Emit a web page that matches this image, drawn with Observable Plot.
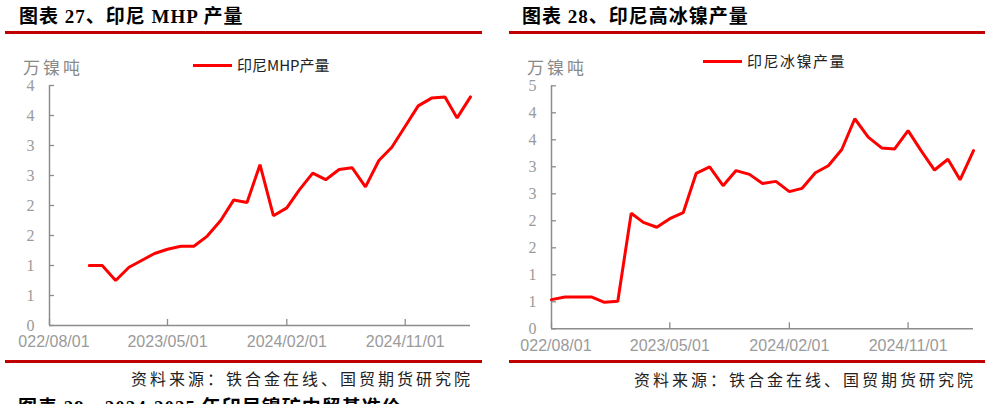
<!DOCTYPE html>
<html><head><meta charset="utf-8">
<script src="https://cdn.jsdelivr.net/npm/d3@7"></script>
<script src="https://cdn.jsdelivr.net/npm/@observablehq/plot@0.6"></script>
<style>
body{margin:0;background:#fff;width:991px;height:404px;overflow:hidden;position:relative;font-family:"Noto Sans CJK SC",sans-serif}
.abs{position:absolute;white-space:nowrap;line-height:1;z-index:2}
.title{font-family:"Liberation Serif","Noto Sans CJK SC",serif;font-weight:bold;font-size:19px;letter-spacing:1px;color:#000}
.rule{position:absolute;height:3px;background:#c00000;z-index:2}
.unit{font-size:17px;color:#8a8a8a;letter-spacing:3px}
.leg{font-size:15px;color:#222}
.legline{position:absolute;height:3px;background:#ff0000;z-index:2}
.src{font-size:16px;color:#222;letter-spacing:3px}
.chart{position:absolute;overflow:hidden;z-index:1}
</style></head><body>

<div class="abs title" style="left:19px;top:7px">图表 27、印尼 MHP 产量</div>
<div class="rule" style="left:5px;width:477px;top:31px"></div>
<div class="abs unit" style="left:23px;top:58px">万镍吨</div>
<div class="legline" style="left:193px;width:39px;top:64px"></div>
<div class="abs leg" style="left:237px;top:57px">印尼MHP产量</div>
<div id="c1" class="chart" style="left:18px;top:40px;width:467px;height:320px"></div>
<div class="rule" style="left:5px;width:477px;top:360px"></div>
<div class="abs src" style="right:518px;top:370px">资料来源：铁合金在线、国贸期货研究院</div>

<div class="abs title" style="left:522px;top:7px">图表 28、印尼高冰镍产量</div>
<div class="rule" style="left:509px;width:476px;top:31px"></div>
<div class="abs unit" style="left:527px;top:58px">万镍吨</div>
<div class="legline" style="left:703px;width:39px;top:60px"></div>
<div class="abs leg" style="left:747px;top:53px;letter-spacing:1.5px">印尼冰镍产量</div>
<div id="c2" class="chart" style="left:520px;top:40px;width:465px;height:320px"></div>
<div class="rule" style="left:509px;width:476px;top:360px"></div>
<div class="abs src" style="right:15px;top:371px">资料来源：铁合金在线、国贸期货研究院</div>

<div class="abs title" style="left:18px;top:398px">图表 29、2024-2025 年印尼镍矿内贸基准价</div>

<script>
// ---- data ----
const mhpMonths = ["2022-11-01","2022-12-01","2023-01-01","2023-02-01","2023-03-01","2023-04-01","2023-05-01","2023-06-01","2023-07-01","2023-08-01","2023-09-01","2023-10-01","2023-11-01","2023-12-01","2024-01-01","2024-02-01","2024-03-01","2024-04-01","2024-05-01","2024-06-01","2024-07-01","2024-08-01","2024-09-01","2024-10-01","2024-11-01","2024-12-01","2025-01-01","2025-02-01","2025-03-01","2025-04-01"];
const mhpValues = [1.00,1.00,0.75,0.97,1.08,1.20,1.27,1.32,1.32,1.49,1.75,2.09,2.05,2.68,1.83,1.96,2.26,2.54,2.43,2.60,2.63,2.31,2.75,2.97,3.32,3.66,3.79,3.81,3.46,3.81];

const matteMonths = ["2022-08-01","2022-09-01","2022-10-01","2022-11-01","2022-12-01","2023-01-01","2023-02-01","2023-03-01","2023-04-01","2023-05-01","2023-06-01","2023-07-01","2023-08-01","2023-09-01","2023-10-01","2023-11-01","2023-12-01","2024-01-01","2024-02-01","2024-03-01","2024-04-01","2024-05-01","2024-06-01","2024-07-01","2024-08-01","2024-09-01","2024-10-01","2024-11-01","2024-12-01","2025-01-01","2025-02-01","2025-03-01","2025-04-01"];
const matteValues = [0.54,0.59,0.59,0.59,0.49,0.51,2.14,1.97,1.88,2.04,2.15,2.88,3.00,2.65,2.93,2.86,2.69,2.73,2.54,2.60,2.89,3.02,3.32,3.89,3.55,3.35,3.33,3.67,3.30,2.94,3.14,2.76,3.30];

const xDomain = ["2022-08-01","2025-04-01"];
const xTicks = ["2022-08-01","2023-05-01","2024-02-01","2024-11-01"];
const xTickLabels = ["2022/08/01","2023/05/01","2024/02/01","2024/11/01"];

const yTicksLeft = [0,0.5,1,1.5,2,2.5,3,3.5,4];
const yLabelsLeft = ["0","1","1","2","2","3","3","4","4"];
const yTicksRight = [0,0.5,1,1.5,2,2.5,3,3.5,4,4.5];
const yLabelsRight = ["0","1","1","2","2","3","3","4","4","5"];

// ---- drawing ----
const parse = d3.utcParse("%Y-%m-%d");
const axisGrey = "#8c8c8c";
const labelGrey = "#9a9a9a";

function draw(el, months, values, yTicks, yLabels, opts) {
  const data = months.map((m, i) => ({date: parse(m), value: values[i]}));
  const xt = xTicks.map(parse);
  const xLab = new Map(xt.map((d, i) => [+d, xTickLabels[i]]));
  const yLab = new Map(yTicks.map((d, i) => [d, yLabels[i]]));
  const innerW = opts.width - opts.marginLeft - opts.marginRight;
  const innerH = opts.height - opts.marginTop - opts.marginBottom;
  const chart = Plot.plot({
    width: opts.width,
    height: opts.height,
    marginLeft: opts.marginLeft,
    marginRight: opts.marginRight,
    marginTop: opts.marginTop,
    marginBottom: opts.marginBottom,
    style: {background: "transparent", overflow: "hidden"},
    x: {type: "utc", domain: xDomain.map(parse)},
    y: {domain: [yTicks[0], yTicks[yTicks.length - 1]]},
    marks: [
      Plot.ruleX(xt, {x: d => d, insetTop: innerH - 6, stroke: axisGrey, strokeWidth: 1.3}),
      Plot.ruleY(yTicks, {y: d => d, insetRight: innerW - 5, stroke: axisGrey, strokeWidth: 1.3}),
      Plot.ruleX([parse(xDomain[0])], {stroke: axisGrey, strokeWidth: 1.5}),
      Plot.ruleY([0], {stroke: axisGrey, strokeWidth: 1.5}),
      Plot.axisX({ticks: xt, tickSize: 0, tickPadding: opts.xPad, label: null,
        tickFormat: d => xLab.get(+d), fontSize: 16, fontFamily: "Liberation Sans, Arial, sans-serif", color: labelGrey}),
      Plot.axisY({ticks: yTicks, tickSize: 0, tickPadding: 15, label: null,
        tickFormat: d => yLab.get(d), fontSize: 16, fontFamily: "Liberation Serif, Times New Roman, serif", color: labelGrey}),
      Plot.line(data, {x: "date", y: "value", stroke: "#ff0000", strokeWidth: 3, strokeLinejoin: "miter"})
    ]
  });
  el.appendChild(chart);
}

draw(document.getElementById("c1"), mhpMonths, mhpValues, yTicksLeft, yLabelsLeft,
  {width: 467, height: 320, marginLeft: 31, marginRight: 15, marginTop: 45, marginBottom: 35, xPad: 10});
draw(document.getElementById("c2"), matteMonths, matteValues, yTicksRight, yLabelsRight,
  {width: 465, height: 320, marginLeft: 31, marginRight: 12, marginTop: 45.3, marginBottom: 31.7, xPad: 11});
</script>
</body></html>
